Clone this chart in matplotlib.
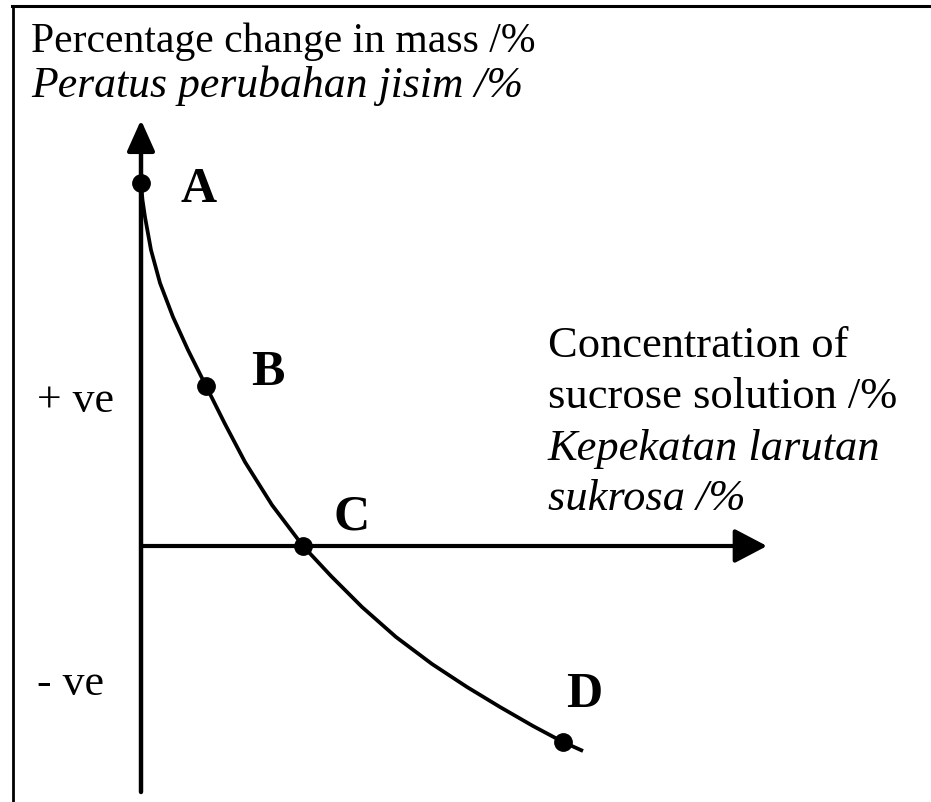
#!/usr/bin/env python3
"""Sketch: percentage change in mass vs sucrose concentration (points A-D)."""
import matplotlib

matplotlib.use("Agg")
import matplotlib.pyplot as plt  # noqa: E402
from matplotlib.lines import Line2D  # noqa: E402

# curve (arbitrary units, origin where the axes cross)
curve_x = [0, 0.015, 0.04, 0.10, 0.19, 0.32, 0.47, 0.65, 0.84, 1.04, 1.31,
           1.62, 1.90, 2.21, 2.55, 2.91, 3.26, 3.59, 3.92, 4.22, 4.42]
curve_y = [3.63, 3.46, 3.29, 2.96, 2.63, 2.29, 1.96, 1.60, 1.22, 0.84, 0.41,
           0, -0.30, -0.61, -0.91, -1.18, -1.41, -1.61, -1.80, -1.96, -2.05]

# the four marked points
point_names = ["A", "B", "C", "D"]
point_x = [0, 0.65, 1.62, 4.22]
point_y = [3.63, 1.60, 0, -1.96]

y_title = ["Percentage change in mass /%", "Peratus perubahan jisim /%"]
x_title = ["Concentration of", "sucrose solution /%",
           "Kepekatan larutan", "sukrosa /%"]
sign_labels = ["+ ve", "- ve"]

plt.rcParams["font.family"] = ["Liberation Serif", "DejaVu Serif"]

fig = plt.figure(figsize=(9.31, 8.02), dpi=100)
ax = fig.add_axes([0, 0, 1, 1])
ax.set_xlim(-1.41, 7.90)
ax.set_ylim(-2.56, 5.46)
ax.axis("off")

# frame: only top and left edges show
fig.add_artist(Line2D([0.013, 1.0], [0.9925, 0.9925], color="black", lw=2.2))
fig.add_artist(Line2D([0.014, 0.014], [0.0, 0.9925], color="black", lw=2))

# axes with arrow heads
ax.annotate("", xy=(0, 4.26), xytext=(0, -2.46),
            arrowprops=dict(arrowstyle="-|>,head_length=19,head_width=8.5",
                            mutation_scale=1, lw=3.2, color="black",
                            shrinkA=0, shrinkB=0))
ax.annotate("", xy=(6.26, 0), xytext=(0, 0),
            arrowprops=dict(arrowstyle="-|>,head_length=20,head_width=10.5",
                            mutation_scale=1, lw=3.0, color="black",
                            shrinkA=0, shrinkB=0))

ax.plot(curve_x, curve_y, color="black", lw=2.7,
        solid_joinstyle="round", solid_capstyle="butt")
ax.plot(point_x, point_y, "o", color="black", ms=12.5)

label_pos = [(0.58, 3.44), (1.27, 1.61), (2.11, 0.16), (4.43, -1.61)]
for name, (lx, ly) in zip(point_names, label_pos):
    ax.text(lx, ly, name, fontsize=36, fontweight="bold",
            ha="center", va="baseline")

ax.text(-1.10, 4.94, y_title[0], fontsize=30, va="baseline")
ax.text(-1.10, 4.49, y_title[1], fontsize=31.5, style="italic", va="baseline")

for i, (line, ly) in enumerate(zip(x_title, [1.89, 1.38, 0.86, 0.36])):
    ax.text(4.07, ly, line, fontsize=32, va="baseline",
            style="italic" if i >= 2 else "normal")

ax.text(-1.04, 1.34, sign_labels[0], fontsize=31.5, va="baseline")
ax.text(-1.04, -1.49, sign_labels[1], fontsize=31.5, va="baseline")

fig.savefig("out.png", dpi=100)
